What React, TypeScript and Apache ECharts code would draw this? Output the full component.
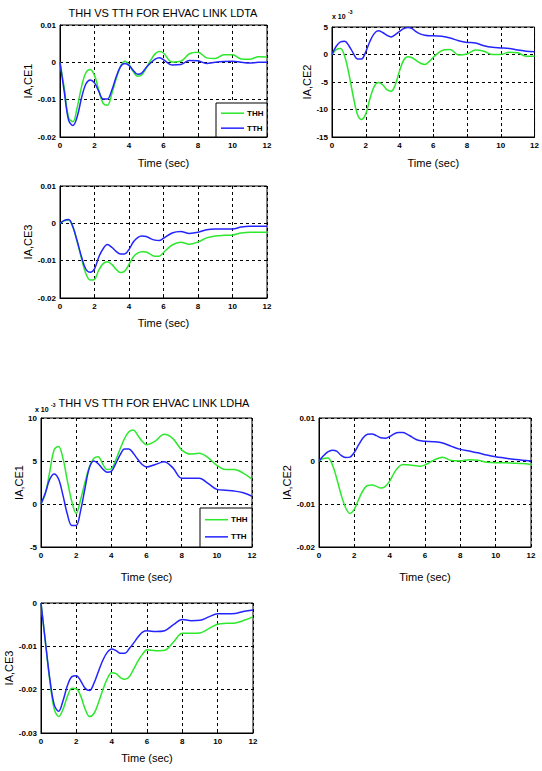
import React, { useEffect, useRef } from "react";
import * as echarts from "echarts";

// Time grid (sec)
const time = [0, 0.25, 0.5, 0.75, 1, 1.25, 1.5, 1.75, 2, 2.25, 2.5, 2.75, 3, 3.25, 3.5, 3.75, 4, 4.25, 4.5, 4.75, 5, 5.25, 5.5, 5.75, 6, 6.5, 7, 7.5, 8, 8.5, 9, 9.5, 10, 10.5, 11, 11.5, 12];

// All values in units of 1e-3
// LDTA - IACE1
const ldtaAce1Thh = [0, -7, -14.8, -15.9, -12, -6.5, -2.8, -1.9, -3.5, -7.5, -11, -11.5, -8.5, -4.5, -1.2, 0.3, -0.6, -2.5, -3.7, -3.3, -1.5, 0.5, 2.2, 2.9, 2.5, 0.1, 0.3, 2.3, 2.7, 1.2, 1.0, 2.0, 2.0, 0.9, 0.8, 1.5, 1.4];
const ldtaAce1Tth = [0, -8, -15.5, -16.9, -14.5, -9.5, -5.8, -4.7, -5.5, -7.8, -9.8, -9.8, -7.5, -4, -1.2, -0.3, -0.8, -2.2, -3.2, -2.8, -1.4, -0.2, 0.8, 1.2, 0.7, -0.7, -0.6, 0.5, 0.4, -0.3, 0, 0.2, 0.3, 0, -0.2, 0, 0];
// LDTA - IACE2
const ldtaAce2Thh = [0, 0.9, 1.1, -0.3, -3.5, -7.5, -10.8, -11.8, -10.8, -8, -5.8, -5.1, -5.5, -6.4, -6.7, -5.5, -3, -1, -0.4, -0.6, -1.1, -1.6, -1.8, -1.3, -0.5, 0.7, 0.9, -0.1, 0.1, 0.8, 0.6, 0, 0, 0.4, 0.3, -0.3, -0.3];
const ldtaAce2Tth = [0, 1.5, 2.3, 2.4, 1.6, 0.3, -0.8, -0.8, 0.5, 2.4, 3.8, 4.3, 4.0, 3.5, 3.2, 3.6, 4.2, 4.7, 4.9, 4.7, 4.1, 3.7, 3.5, 3.4, 3.4, 3.3, 3.0, 2.5, 2.2, 2.1, 1.6, 1.3, 1.2, 1.1, 0.8, 0.6, 0.5];
// LDTA - IACE3
const ldtaAce3Thh = [0, 0.7, 0.9, -1, -5, -9.5, -13.5, -15.2, -15, -12.5, -10.8, -10.3, -11, -12.3, -13.2, -12.8, -11, -9, -8, -7.6, -7.7, -8.3, -8.8, -8.8, -7.8, -5.8, -5.1, -5.6, -5, -3.9, -3.4, -3.2, -3.1, -2.6, -2.4, -2.4, -2.4];
const ldtaAce3Tth = [0, 0.8, 1.0, -1, -4.8, -9, -12.3, -13.1, -12.2, -9, -6.8, -5.7, -6.4, -7.5, -8.2, -8.2, -7, -5, -3.8, -3.4, -3.5, -4.1, -4.5, -4.6, -4, -2.6, -2.2, -2.7, -2.4, -1.7, -1.5, -1.5, -1.5, -1.0, -0.8, -0.8, -0.8];
// LDHA - IACE1
const ldhaAce1Thh = [0, 1.2, 3.8, 6.3, 6.7, 5.3, 2.7, 0.3, -1.1, 0.5, 2.5, 4.3, 5.3, 5.5, 4.7, 4.0, 4.1, 5.1, 6.4, 7.6, 8.4, 8.6, 8.0, 7.3, 6.9, 7.3, 8.1, 7.6, 6.3, 5.8, 5.9, 5.4, 4.5, 4.0, 4.0, 3.6, 2.9];
const ldhaAce1Tth = [0, 1.3, 2.9, 3.5, 2.9, 1.0, -1.2, -2.5, -2.5, -0.8, 1.8, 4.2, 5.0, 4.7, 4.1, 3.7, 3.8, 4.7, 5.7, 6.4, 6.4, 5.9, 5.2, 4.6, 4.3, 4.6, 4.9, 4.2, 3.0, 3.0, 3.0, 2.4, 1.7, 1.6, 1.5, 1.3, 0.9];
// LDHA - IACE2
const ldhaAce2Thh = [0, 0.6, 0.7, -0.8, -4, -7.8, -10.8, -12.2, -11.2, -8.9, -6.8, -5.7, -5.6, -5.9, -6.3, -5.9, -4.7, -2.8, -1.4, -0.8, -0.9, -1.0, -1.1, -1.2, -0.9, 0.2, 0.9, 0.1, 0, 0.3, 0.2, -0.3, -0.4, -0.4, -0.5, -0.6, -0.8];
const ldhaAce2Tth = [0, 1.2, 2.1, 2.5, 2.3, 1.3, 0.8, 0.9, 2.0, 3.8, 5.4, 6.2, 6.3, 5.9, 5.4, 5.3, 5.7, 6.3, 6.6, 6.6, 6.2, 5.6, 5.0, 4.7, 4.6, 4.5, 4.2, 3.4, 2.7, 2.3, 1.9, 1.4, 1.0, 0.7, 0.4, 0.2, 0];
// LDHA - IACE3
const ldhaAce3Thh = [0, -9, -18, -24.5, -26.2, -24.5, -21.5, -19.7, -19.8, -21.5, -24.5, -26.2, -25.5, -23, -20, -17.5, -16.1, -16.3, -17.2, -17.6, -17, -15.2, -13.3, -11.8, -10.8, -11, -10.9, -9, -7, -7, -6.9, -5.9, -4.9, -4.7, -4.6, -4, -3.2];
const ldhaAce3Tth = [0, -9, -17.5, -23.5, -25, -22.5, -19, -17, -16.8, -18, -19.7, -20.2, -18.5, -15.8, -13.2, -11.4, -10.6, -11, -11.6, -11.6, -10.5, -9.2, -7.8, -6.7, -6.4, -6.6, -6.4, -5, -3.8, -4.1, -4, -3.2, -2.5, -2.5, -2.4, -1.9, -1.6];

const xTicks = { min: 0, max: 12, interval: 2 };
const yLabels = ["IA,CE1", "IA,CE2", "IA,CE3", "IA,CE1", "IA,CE2", "IA,CE3"];
const yMin = [-20, -15, -20, -5, -20, -30];
const yMax = [10, 5, 10, 10, 10, 0];
const yInterval = [10, 5, 10, 5, 10, 10];
const yScaled = [true, false, true, false, true, true];
const titles = ["THH VS TTH FOR EHVAC LINK LDTA", "THH VS TTH FOR EHVAC LINK LDHA"];
const legendNames = ["THH", "TTH"];

const GREEN = "#2de82d";
const BLUE = "#2424ff";

export default function App() {
  const ref = useRef<HTMLDivElement>(null);
  useEffect(() => {
    if (!ref.current) return;
    const chart = echarts.init(ref.current, null, { renderer: "svg" });
    const grids = [
      { left: 60, top: 25, width: 207, height: 112 },
      { left: 332, top: 27, width: 206, height: 110 },
      { left: 60, top: 186, width: 207, height: 112 },
      { left: 41, top: 418, width: 211, height: 129 },
      { left: 319, top: 418, width: 212, height: 129 },
      { left: 41, top: 603, width: 212, height: 130 },
    ];
    const yNameGap = [22, 16, 22, 17, 24, 24];
    const xNameGap = [20, 20, 19, 24, 24, 19];
    const pairs = [
      [ldtaAce1Thh, ldtaAce1Tth],
      [ldtaAce2Thh, ldtaAce2Tth],
      [ldtaAce3Thh, ldtaAce3Tth],
      [ldhaAce1Thh, ldhaAce1Tth],
      [ldhaAce2Thh, ldhaAce2Tth],
      [ldhaAce3Thh, ldhaAce3Tth],
    ];
    const fam = "Arial, Liberation Sans, sans-serif";
    const tickFont = { fontSize: 8, fontWeight: "bold" as const, color: "#000", fontFamily: fam };
    const nameFont = { fontSize: 11, color: "#000", fontFamily: fam };
    const dashed = { show: true, lineStyle: { color: "#000", type: [3, 3] as any, width: 1 } };

    const xAxis = grids.map((_, i) => ({
      type: "value",
      gridIndex: i,
      ...xTicks,
      name: "Time (sec)",
      nameLocation: "middle",
      nameGap: xNameGap[i],
      nameTextStyle: nameFont,
      axisLine: { show: true, onZero: false, lineStyle: { color: "#000", width: 1 } },
      axisTick: { show: true, inside: true, length: 3, lineStyle: { color: "#000" } },
      axisLabel: { ...tickFont, margin: 4 },
      splitLine: dashed,
    }));
    const yAxis = grids.map((_, i) => ({
      type: "value",
      gridIndex: i,
      min: yMin[i],
      max: yMax[i],
      interval: yInterval[i],
      name: yLabels[i],
      nameLocation: "middle",
      nameRotate: 90,
      nameGap: yNameGap[i],
      nameTextStyle: nameFont,
      axisLine: { show: true, onZero: false, lineStyle: { color: "#000", width: 1 } },
      axisTick: { show: true, inside: true, length: 3, lineStyle: { color: "#000" } },
      axisLabel: {
        ...tickFont,
        margin: 4,
        formatter: (v: number) => (v === 0 ? "0" : yScaled[i] ? (v / 1000).toFixed(2) : String(v)),
      },
      splitLine: dashed,
    }));
    const series: any[] = [];
    pairs.forEach((pair, i) => {
      pair.forEach((arr, k) => {
        series.push({
          type: "line",
          name: legendNames[k],
          xAxisIndex: i,
          yAxisIndex: i,
          data: time.map((t, j) => [t, arr[j]]),
          symbol: "none",
          smooth: 0.35,
          lineStyle: { color: k === 0 ? GREEN : BLUE, width: 1.5 },
          z: k === 0 ? 3 : 4,
        });
      });
    });

    const legendBox = (x: number, y: number, w: number, h: number) => [
      { type: "rect", z: 100, shape: { x, y, width: w, height: h }, style: { fill: "#fff", stroke: "#000", lineWidth: 1 } },
      { type: "line", z: 101, shape: { x1: x + 5, y1: y + h * 0.3, x2: x + 28, y2: y + h * 0.3 }, style: { stroke: GREEN, lineWidth: 1.5 } },
      { type: "line", z: 101, shape: { x1: x + 5, y1: y + h * 0.74, x2: x + 28, y2: y + h * 0.74 }, style: { stroke: BLUE, lineWidth: 1.5 } },
      { type: "text", z: 101, x: x + 31, y: y + h * 0.3, style: { text: legendNames[0], ...tickFont, fill: "#000", verticalAlign: "middle" } },
      { type: "text", z: 101, x: x + 31, y: y + h * 0.74, style: { text: legendNames[1], ...tickFont, fill: "#000", verticalAlign: "middle" } },
    ];

    const graphic: any[] = [
      { type: "text", x: 163, y: 13, style: { text: titles[0], fontSize: 11, fill: "#000", align: "center", verticalAlign: "middle", fontFamily: fam } },
      { type: "text", x: 154, y: 403, z: 5, style: { text: titles[1], fontSize: 11, fill: "#000", align: "center", verticalAlign: "middle", fontFamily: fam } },
      { type: "text", x: 332, y: 16, style: { text: "x 10", ...tickFont, fontSize: 7, fill: "#000", verticalAlign: "middle" } },
      { type: "text", x: 348, y: 12, style: { text: "-3", ...tickFont, fontSize: 5, fill: "#000", verticalAlign: "middle" } },
      { type: "text", x: 35, y: 409, style: { text: "x 10", ...tickFont, fontSize: 7, fill: "#000", verticalAlign: "middle" } },
      { type: "text", x: 51, y: 405, style: { text: "-3", ...tickFont, fontSize: 5, fill: "#000", verticalAlign: "middle" } },
      ...legendBox(216, 103, 51, 34),
      ...legendBox(200, 508, 52, 39),
    ];

    chart.setOption({
      animation: false,
      backgroundColor: "#fff",
      grid: grids.map((g) => ({ ...g, show: true, borderColor: "#000", borderWidth: 1, backgroundColor: "transparent" })),
      xAxis,
      yAxis,
      series,
      graphic,
    });
    return () => chart.dispose();
  }, []);
  return <div ref={ref} style={{ position: "absolute", left: 0, top: 0, width: 542, height: 771 }} />;
}
